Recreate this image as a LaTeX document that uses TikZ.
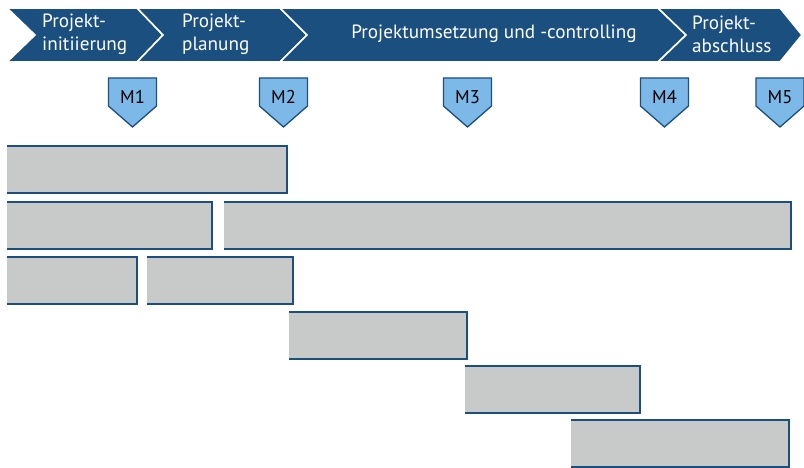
\documentclass[tikz,border=0pt]{standalone}
\usepackage{fontspec}
\setmainfont{PT Sans}
\usetikzlibrary{calc}
\definecolor{phaseblue}{HTML}{1A4F80}
\definecolor{mslight}{HTML}{7DB9E8}
\definecolor{bargray}{HTML}{C8C9C9}
\tikzset{
  phase/.style={
    fill=phaseblue,
    draw=white,
    line width=1.6pt,
    line join=miter
  },
  phasetext/.style={
    text=white,
    inner sep=0pt,
    align=left,
    font=\fontsize{19.2}{23}\selectfont
  },
  bar/.style={
    fill=bargray,
    inner sep=0pt,
    anchor=north west
  },
  barline/.style={
    draw=phaseblue,
    line width=2pt
  },
  milestone/.pic={
    \filldraw[draw=phaseblue, fill=mslight, line width=1.3pt, line join=miter]
      (-24,0) -- (24,0) -- (24,28) -- (0,49) -- (-24,28) -- cycle;
    \node[inner sep=0pt, font=\fontsize{18.5}{20}\selectfont] (-label) at (0,19) {#1};
  }
}
\begin{document}
\begin{tikzpicture}[x=1pt, y=-1pt]
  \useasboundingbox (0,0) rectangle (804,468);
  % phases
  \draw[phase] (7,8) -- (137,8) -- (163,35) -- (137,62) -- (7,62) -- (35,35) -- cycle;
  \draw[phase] (137,8) -- (280,8) -- (307,35) -- (280,62) -- (137,62) -- (163,35) -- cycle;
  \draw[phase] (280,8) -- (658,8) -- (686,35) -- (658,62) -- (280,62) -- (307,35) -- cycle;
  \draw[phase] (658,8) -- (780,8) -- (802,35) -- (780,62) -- (658,62) -- (686,35) -- cycle;
  \node[phasetext, anchor=west] (p1) at (42,34) {Projekt-\\initiierung};
  \node[phasetext, anchor=west] (p2) at (182,34) {Projekt-\\planung};
  \node[phasetext] (p3) at (494,34) {Projektumsetzung und -controlling};
  \node[phasetext, anchor=west] (p4) at (692,34) {Projekt-\\abschluss};
  % milestones
  \pic (m1) at (132.5,78) {milestone={M1}};
  \pic (m2) at (283.5,78) {milestone={M2}};
  \pic (m3) at (467.5,78) {milestone={M3}};
  \pic (m4) at (664.5,78) {milestone={M4}};
  \pic (m5) at (780,78) {milestone={M5}};
  % bars
  \foreach \name/\x/\y/\w in {b1/7/146/280, b2/7/202/205, b3/224/202/567,
      b4/7/257/130, b5/147/257/146, b6/289/312/178, b7/465/366/175, b8/571/420/218}{
    \node[bar, minimum width=\w pt, minimum height=47pt] (\name) at (\x,\y) {};
    \draw[barline] (\name.north west) -- (\name.north east) -- (\name.south east) -- (\name.south west);
  }
\end{tikzpicture}
\end{document}
